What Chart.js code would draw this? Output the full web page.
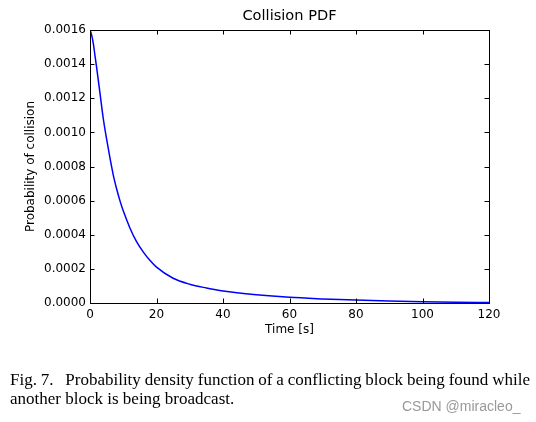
<!DOCTYPE html>
<html>
<head>
<meta charset="utf-8">
<script src="https://cdn.jsdelivr.net/npm/chart.js@4/dist/chart.umd.min.js"></script>
<style>
html,body{margin:0;padding:0;background:#fff;}
#wrap{position:relative;width:536px;height:422px;overflow:hidden;}
#c{position:absolute;left:0;top:0;}
.cap{position:absolute;left:10px;width:520px;font-family:"Liberation Serif","Times New Roman",serif;font-size:17px;line-height:19px;color:#000;white-space:nowrap;}
#cap1{top:370px;text-align:justify;text-align-last:justify;word-spacing:-3px;}
#cap2{top:389px;text-align:left;}
#wm{position:absolute;left:402px;top:398px;font-family:"Liberation Sans",Arial,sans-serif;font-size:14px;color:#999;}
</style>
</head>
<body>
<div id="wrap">
<canvas id="c" width="536" height="422"></canvas>
<div class="cap" id="cap1">Fig. 7.&nbsp;&nbsp; Probability density function of a conflicting block being found while</div>
<div class="cap" id="cap2">another block is being broadcast.</div>
<div id="wm">CSDN @miracleo_</div>
</div>
<script>
const chartTitle = "Collision PDF";
const xAxisLabel = "Time [s]";
const yAxisLabel = "Probability of collision";
const times = [0, 0.5, 1, 1.5, 2, 3, 4, 5, 6, 7, 8, 9, 10, 12, 14, 16, 18, 20, 25, 30, 35, 40, 50, 60, 70, 80, 90, 100, 110, 120];
const probs = [0.00160, 0.00157, 0.00152, 0.00145, 0.00138, 0.00123, 0.00108, 0.00096, 0.00085, 0.00075, 0.00067, 0.00060, 0.00054, 0.00044, 0.00036, 0.00030, 0.00025, 0.00021, 0.000145, 0.000110, 0.000088, 0.000070, 0.000048, 0.000033, 0.000024, 0.000017, 0.000012, 0.000008, 0.000005, 0.000003];
const xTicks = [0, 20, 40, 60, 80, 100, 120];
const yTicks = [0, 0.0002, 0.0004, 0.0006, 0.0008, 0.0010, 0.0012, 0.0014, 0.0016];

const points = times.map((t, i) => ({x: t, y: probs[i]}));

const framePlugin = {
  id: 'frame',
  afterDatasetsDraw(chart) {
    const ctx = chart.ctx;
    const a = chart.chartArea;
    const xs = chart.scales.x, ys = chart.scales.y;
    const L = 4.5;
    ctx.save();
    ctx.strokeStyle = '#000';
    ctx.lineWidth = 1;
    ctx.beginPath();
    xTicks.forEach(v => {
      const px = Math.round(xs.getPixelForValue(v)) + 0.5;
      ctx.moveTo(px, a.bottom); ctx.lineTo(px, a.bottom - L);
      ctx.moveTo(px, a.top); ctx.lineTo(px, a.top + L);
    });
    yTicks.forEach(v => {
      const py = Math.round(ys.getPixelForValue(v)) + 0.5;
      ctx.moveTo(a.left, py); ctx.lineTo(a.left + L, py);
      ctx.moveTo(a.right, py); ctx.lineTo(a.right - L, py);
    });
    ctx.stroke();
    ctx.strokeRect(Math.round(a.left) + 0.5, Math.round(a.top) + 0.5, Math.round(a.right - a.left), Math.round(a.bottom - a.top));
    ctx.restore();
  }
};

new Chart(document.getElementById('c'), {
  type: 'line',
  data: {
    datasets: [{
      data: points,
      borderColor: '#0000ff',
      borderWidth: 1.5,
      pointRadius: 0,
      fill: false,
      cubicInterpolationMode: 'monotone'
    }]
  },
  options: {
    responsive: false,
    animation: false,
    devicePixelRatio: 1,
    layout: {padding: {left: 0, right: 47, top: 0, bottom: 84}},
    plugins: {
      legend: {display: false},
      tooltip: {enabled: false},
      title: {
        display: true,
        fullSize: false,
        text: chartTitle,
        color: '#000',
        font: {family: 'DejaVu Sans', size: 14.6, weight: 'normal', lineHeight: 1.2},
        padding: {top: 7, bottom: 5.5}
      }
    },
    scales: {
      x: {
        type: 'linear',
        min: 0, max: 120,
        afterFit(s) { s.height = 35; },
        afterBuildTicks(s) { s.ticks = xTicks.map(v => ({value: v})); },
        grid: {display: false, drawTicks: false},
        border: {display: false},
        ticks: {color: '#000', padding: 5, maxRotation: 0, font: {family: 'DejaVu Sans', size: 12}, callback: v => String(v)},
        title: {display: true, text: xAxisLabel, color: '#000', font: {family: 'DejaVu Sans', size: 12}, padding: {top: 0, bottom: 1}}
      },
      y: {
        type: 'linear',
        min: 0, max: 0.0016,
        afterFit(s) { s.width = 90; },
        afterBuildTicks(s) { s.ticks = yTicks.map(v => ({value: v})); },
        grid: {display: false, drawTicks: false},
        border: {display: false},
        ticks: {color: '#000', padding: 4, font: {family: 'DejaVu Sans', size: 12}, callback: v => Number(v).toFixed(4)},
        title: {display: true, text: yAxisLabel, color: '#000', font: {family: 'DejaVu Sans', size: 12}, padding: {top: 24, bottom: 0}}
      }
    }
  },
  plugins: [framePlugin]
});
</script>
</body>
</html>
